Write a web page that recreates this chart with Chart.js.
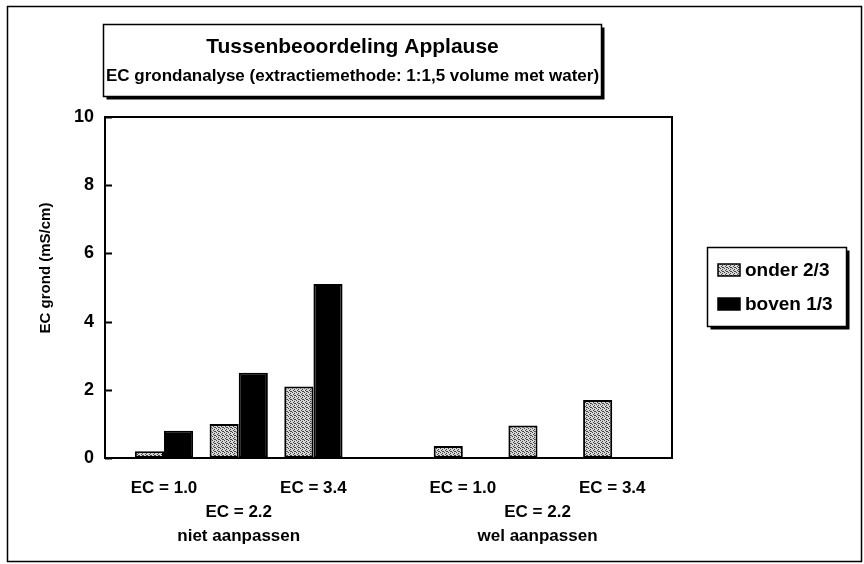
<!DOCTYPE html>
<html>
<head>
<meta charset="utf-8">
<title>Tussenbeoordeling Applause</title>
<script src="https://cdn.jsdelivr.net/npm/chart.js@4.4.1/dist/chart.umd.min.js"></script>
<style>
  body { margin: 0; background: #fff; }
  #wrap { width: 864px; height: 564px; }
</style>
</head>
<body>
<div id="wrap"><canvas id="ecChart" width="864" height="564"></canvas></div>
<script>
// behandelingen; de lege plek scheidt "niet aanpassen" van "wel aanpassen"
const categories = ['EC = 1.0', 'EC = 2.2', 'EC = 3.4', '', 'EC = 1.0', 'EC = 2.2', 'EC = 3.4'];
const groupNames = ['niet aanpassen', 'wel aanpassen'];
const onder = [0.2, 1.0, 2.1, null, 0.35, 0.95, 1.7];
const boven = [0.8, 2.5, 5.1, null, null, null, null];
const yTicks = [0, 2, 4, 6, 8, 10];

const FONT = '"Liberation Sans", Arial, sans-serif';
const ctx = document.getElementById('ecChart').getContext('2d');

// grijs gespikkeld vlak voor "onder 2/3"
function stipple() {
    const c = document.createElement('canvas');
    c.width = 4;
    c.height = 4;
    const g = c.getContext('2d');
    g.fillStyle = '#d6d6d6';
    g.fillRect(0, 0, 4, 4);
    g.fillStyle = '#444';
    [[0, 0], [2, 1], [1, 2], [3, 3], [2, 3]].forEach(([x, y]) => g.fillRect(x, y, 1, 1));
    return ctx.createPattern(c, 'repeat');
}
const grey = stipple();

// label onder elke kolom: EC 2.2 staat een regel lager, met de groepsnaam eronder
function tickLines(i) {
    const group = i < 3 ? groupNames[0] : groupNames[1];
    if (i % 4 === 1) return ['', categories[i], group];
    return [categories[i]];
}

function shadowBox(c, x, y, w, h) {
    c.fillStyle = '#000';
    c.fillRect(x + 3, y + 3, w, h);
    c.fillStyle = '#fff';
    c.fillRect(x, y, w, h);
    c.lineWidth = 1.5;
    c.strokeStyle = '#000';
    c.strokeRect(x, y, w, h);
}

const decorations = {
    id: 'decorations',
    afterDraw(chart) {
        const c = chart.ctx;
        const a = chart.chartArea;
        const y = chart.scales.y;
        c.save();

        // buitenrand
        c.strokeStyle = '#000';
        c.lineWidth = 1.5;
        c.strokeRect(7.5, 6.5, 854, 555);

        // kader om het grafiekvlak
        c.lineWidth = 2;
        c.strokeRect(a.left, a.top, a.right - a.left, a.bottom - a.top);

        // maatstreepjes naar binnen
        yTicks.forEach(v => {
            const py = Math.round(y.getPixelForValue(v)) + 0.5;
            c.beginPath();
            c.moveTo(a.left, py);
            c.lineTo(a.left + 7, py);
            c.stroke();
        });

        // astitel, iets boven het midden van de as
        c.save();
        c.translate(46, 268);
        c.rotate(-Math.PI / 2);
        c.fillStyle = '#000';
        c.textAlign = 'center';
        c.textBaseline = 'middle';
        c.font = 'bold 15px ' + FONT;
        c.fillText('EC grond (mS/cm)', 0, 0);
        c.restore();

        // titelblok
        shadowBox(c, 103.5, 24.5, 498, 72);
        c.fillStyle = '#000';
        c.textAlign = 'center';
        c.textBaseline = 'middle';
        c.font = 'bold 21px ' + FONT;
        c.fillText('Tussenbeoordeling Applause', 352.5, 47);
        c.font = 'bold 17px ' + FONT;
        c.fillText('EC grondanalyse (extractiemethode: 1:1,5 volume met water)', 352.5, 76);

        // legenda
        shadowBox(c, 707.5, 247.5, 139, 79);
        c.textAlign = 'left';
        c.font = 'bold 19px ' + FONT;
        chart.data.datasets.forEach((ds, i) => {
            const ly = 270 + i * 34;
            c.fillStyle = ds.backgroundColor;
            c.fillRect(718, ly - 6, 22, 12);
            c.lineWidth = 1.5;
            c.strokeStyle = '#000';
            c.strokeRect(718, ly - 6, 22, 12);
            c.fillStyle = '#000';
            c.fillText(ds.label, 745, ly + 1);
        });

        c.restore();
    }
};

const chart = new Chart(ctx, {
    type: 'bar',
    data: {
        datasets: [{
            label: 'onder 2/3',
            data: categories.map((cat, i) => ({ x: i, y: onder[i] })),
            backgroundColor: grey,
            borderColor: '#000',
            borderWidth: 2,
            borderSkipped: false,
            categoryPercentage: 0.78,
            barPercentage: 1
        }, {
            label: 'boven 1/3',
            data: categories.map((cat, i) => ({ x: i, y: boven[i] })),
            backgroundColor: '#000',
            borderColor: '#000',
            borderWidth: 2,
            borderSkipped: false,
            categoryPercentage: 0.78,
            barPercentage: 1
        }]
    },
    options: {
        responsive: false,
        animation: false,
        events: [],
        layout: { padding: { top: 117, right: 192, left: 0, bottom: 0 } },
        plugins: {
            legend: { display: false },
            tooltip: { enabled: false }
        },
        scales: {
            x: {
                type: 'linear',
                offset: false,
                min: -0.79,
                max: 6.8,
                grid: { display: false, drawTicks: false, offset: false },
                border: { display: false },
                afterBuildTicks: scale => {
                    scale.ticks = categories
                        .map((cat, i) => ({ value: i }))
                        .filter(t => categories[t.value] !== '');
                },
                afterFit: scale => { scale.height = 106; },
                ticks: {
                    autoSkip: false,
                    maxRotation: 0,
                    padding: 18,
                    color: '#000',
                    font: { family: FONT, size: 17, weight: 'bold', lineHeight: 1.42 },
                    callback: value => tickLines(value)
                }
            },
            y: {
                min: 0,
                max: 10,
                grid: { display: false, drawTicks: false },
                border: { display: false },
                afterBuildTicks: scale => {
                    scale.ticks = yTicks.map(v => ({ value: v }));
                },
                afterFit: scale => { scale.width = 105; },
                ticks: {
                    padding: 11,
                    color: '#000',
                    font: { family: FONT, size: 18, weight: 'bold' }
                }
            }
        }
    },
    plugins: [decorations]
});
</script>
</body>
</html>
